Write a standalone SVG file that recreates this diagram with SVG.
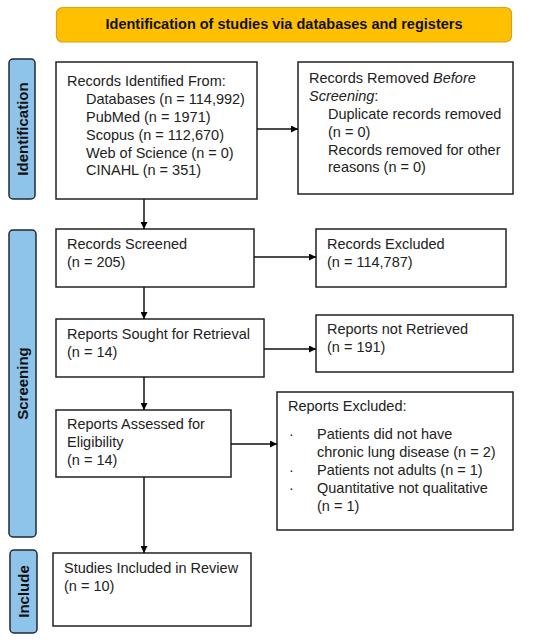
<svg xmlns="http://www.w3.org/2000/svg" width="550" height="643" viewBox="0 0 550 643">
<defs>
<marker id="ah" viewBox="0 0 10 10" refX="10" refY="5" markerWidth="7" markerHeight="7" markerUnits="userSpaceOnUse" orient="auto">
<path d="M0,0 L10,5 L0,10 z" fill="#000"/>
</marker>
</defs>
<style>
.box{fill:#fff;stroke:#222;stroke-width:1.5}
.side{fill:#8ec3ea;stroke:#1e2a38;stroke-width:1.5}
.t{font-family:"Liberation Sans",Arial,sans-serif;font-size:14.5px;fill:#222}
.st{font-family:"Liberation Sans",Arial,sans-serif;font-size:15px;font-weight:bold;fill:#111}
.ban{font-family:"Liberation Sans",Arial,sans-serif;font-size:14.5px;font-weight:bold;fill:#111}
.c{stroke:#111;stroke-width:1.5;fill:none;marker-end:url(#ah)}
</style>
<rect width="550" height="643" fill="#fff"/>
<g id="banner">
<rect x="56.5" y="7.5" width="455" height="34.5" rx="6" fill="#ffc000" stroke="#d9a21a" stroke-width="1.2"/>
<text class="ban" x="284" y="29" text-anchor="middle">Identification of studies via databases and registers</text>
</g>
<g id="side-identification">
<rect class="side" x="9" y="59" width="26" height="140" rx="4"/>
<text class="st" transform="translate(27.5,129) rotate(-90)" text-anchor="middle">Identification</text>
</g>
<g id="side-screening">
<rect class="side" x="9" y="230" width="27" height="307" rx="4"/>
<text class="st" transform="translate(28,383.5) rotate(-90)" text-anchor="middle">Screening</text>
</g>
<g id="side-include">
<rect class="side" x="10" y="550" width="27" height="83" rx="4"/>
<text class="st" transform="translate(29,591.5) rotate(-90)" text-anchor="middle">Include</text>
</g>
<g id="records-identified">
<rect class="box" x="56" y="62" width="201" height="137"/>
<text class="t" x="67" y="86">Records Identified From:</text>
<text class="t" x="86" y="104">Databases (n = 114,992)</text>
<text class="t" x="86" y="122">PubMed (n = 1971)</text>
<text class="t" x="86" y="140">Scopus (n = 112,670)</text>
<text class="t" x="86" y="157.5">Web of Science (n = 0)</text>
<text class="t" x="86" y="175">CINAHL (n = 351)</text>
</g>
<g id="records-removed">
<rect class="box" x="298" y="62" width="215" height="132"/>
<text class="t" x="309" y="83">Records Removed <tspan font-style="italic">Before</tspan></text>
<text class="t" x="309" y="101"><tspan font-style="italic">Screening</tspan>:</text>
<text class="t" x="328" y="119">Duplicate records removed</text>
<text class="t" x="328" y="137">(n = 0)</text>
<text class="t" x="328" y="155">Records removed for other</text>
<text class="t" x="328" y="172">reasons (n = 0)</text>
</g>
<g id="records-screened">
<rect class="box" x="56" y="229" width="198" height="58"/>
<text class="t" x="67" y="249">Records Screened</text>
<text class="t" x="67" y="267">(n = 205)</text>
</g>
<g id="records-excluded">
<rect class="box" x="316" y="229" width="190" height="58"/>
<text class="t" x="327" y="249">Records Excluded</text>
<text class="t" x="327" y="267">(n = 114,787)</text>
</g>
<g id="reports-sought">
<rect class="box" x="56" y="319" width="208" height="58"/>
<text class="t" x="67" y="339">Reports Sought for Retrieval</text>
<text class="t" x="67" y="357">(n = 14)</text>
</g>
<g id="reports-not-retrieved">
<rect class="box" x="316" y="315" width="197" height="57"/>
<text class="t" x="327" y="334">Reports not Retrieved</text>
<text class="t" x="327" y="352">(n = 191)</text>
</g>
<g id="reports-assessed">
<rect class="box" x="56" y="410" width="175" height="67"/>
<text class="t" x="67" y="429">Reports Assessed for</text>
<text class="t" x="67" y="447">Eligibility</text>
<text class="t" x="67" y="465">(n = 14)</text>
</g>
<g id="reports-excluded">
<rect class="box" x="277" y="392" width="236" height="138"/>
<text class="t" x="288" y="411">Reports Excluded:</text>
<text class="t" x="289" y="439">·</text>
<text class="t" x="317" y="439">Patients did not have</text>
<text class="t" x="317" y="457">chronic lung disease (n = 2)</text>
<text class="t" x="289" y="475">·</text>
<text class="t" x="317" y="475">Patients not adults (n = 1)</text>
<text class="t" x="289" y="493">·</text>
<text class="t" x="317" y="493">Quantitative not qualitative</text>
<text class="t" x="317" y="511">(n = 1)</text>
</g>
<g id="studies-included">
<rect class="box" x="53" y="553" width="198" height="73"/>
<text class="t" x="64" y="573">Studies Included in Review</text>
<text class="t" x="64" y="591">(n = 10)</text>
</g>
<g id="connectors">
<line class="c" x1="257" y1="129" x2="298" y2="129"/>
<line class="c" x1="144" y1="199" x2="144" y2="229"/>
<line class="c" x1="254" y1="257" x2="316" y2="257"/>
<line class="c" x1="144" y1="287" x2="144" y2="319"/>
<line class="c" x1="264" y1="349" x2="316" y2="349"/>
<line class="c" x1="144" y1="377" x2="144" y2="410"/>
<line class="c" x1="231" y1="444" x2="277" y2="444"/>
<line class="c" x1="144" y1="477" x2="144" y2="553"/>
</g>
</svg>
